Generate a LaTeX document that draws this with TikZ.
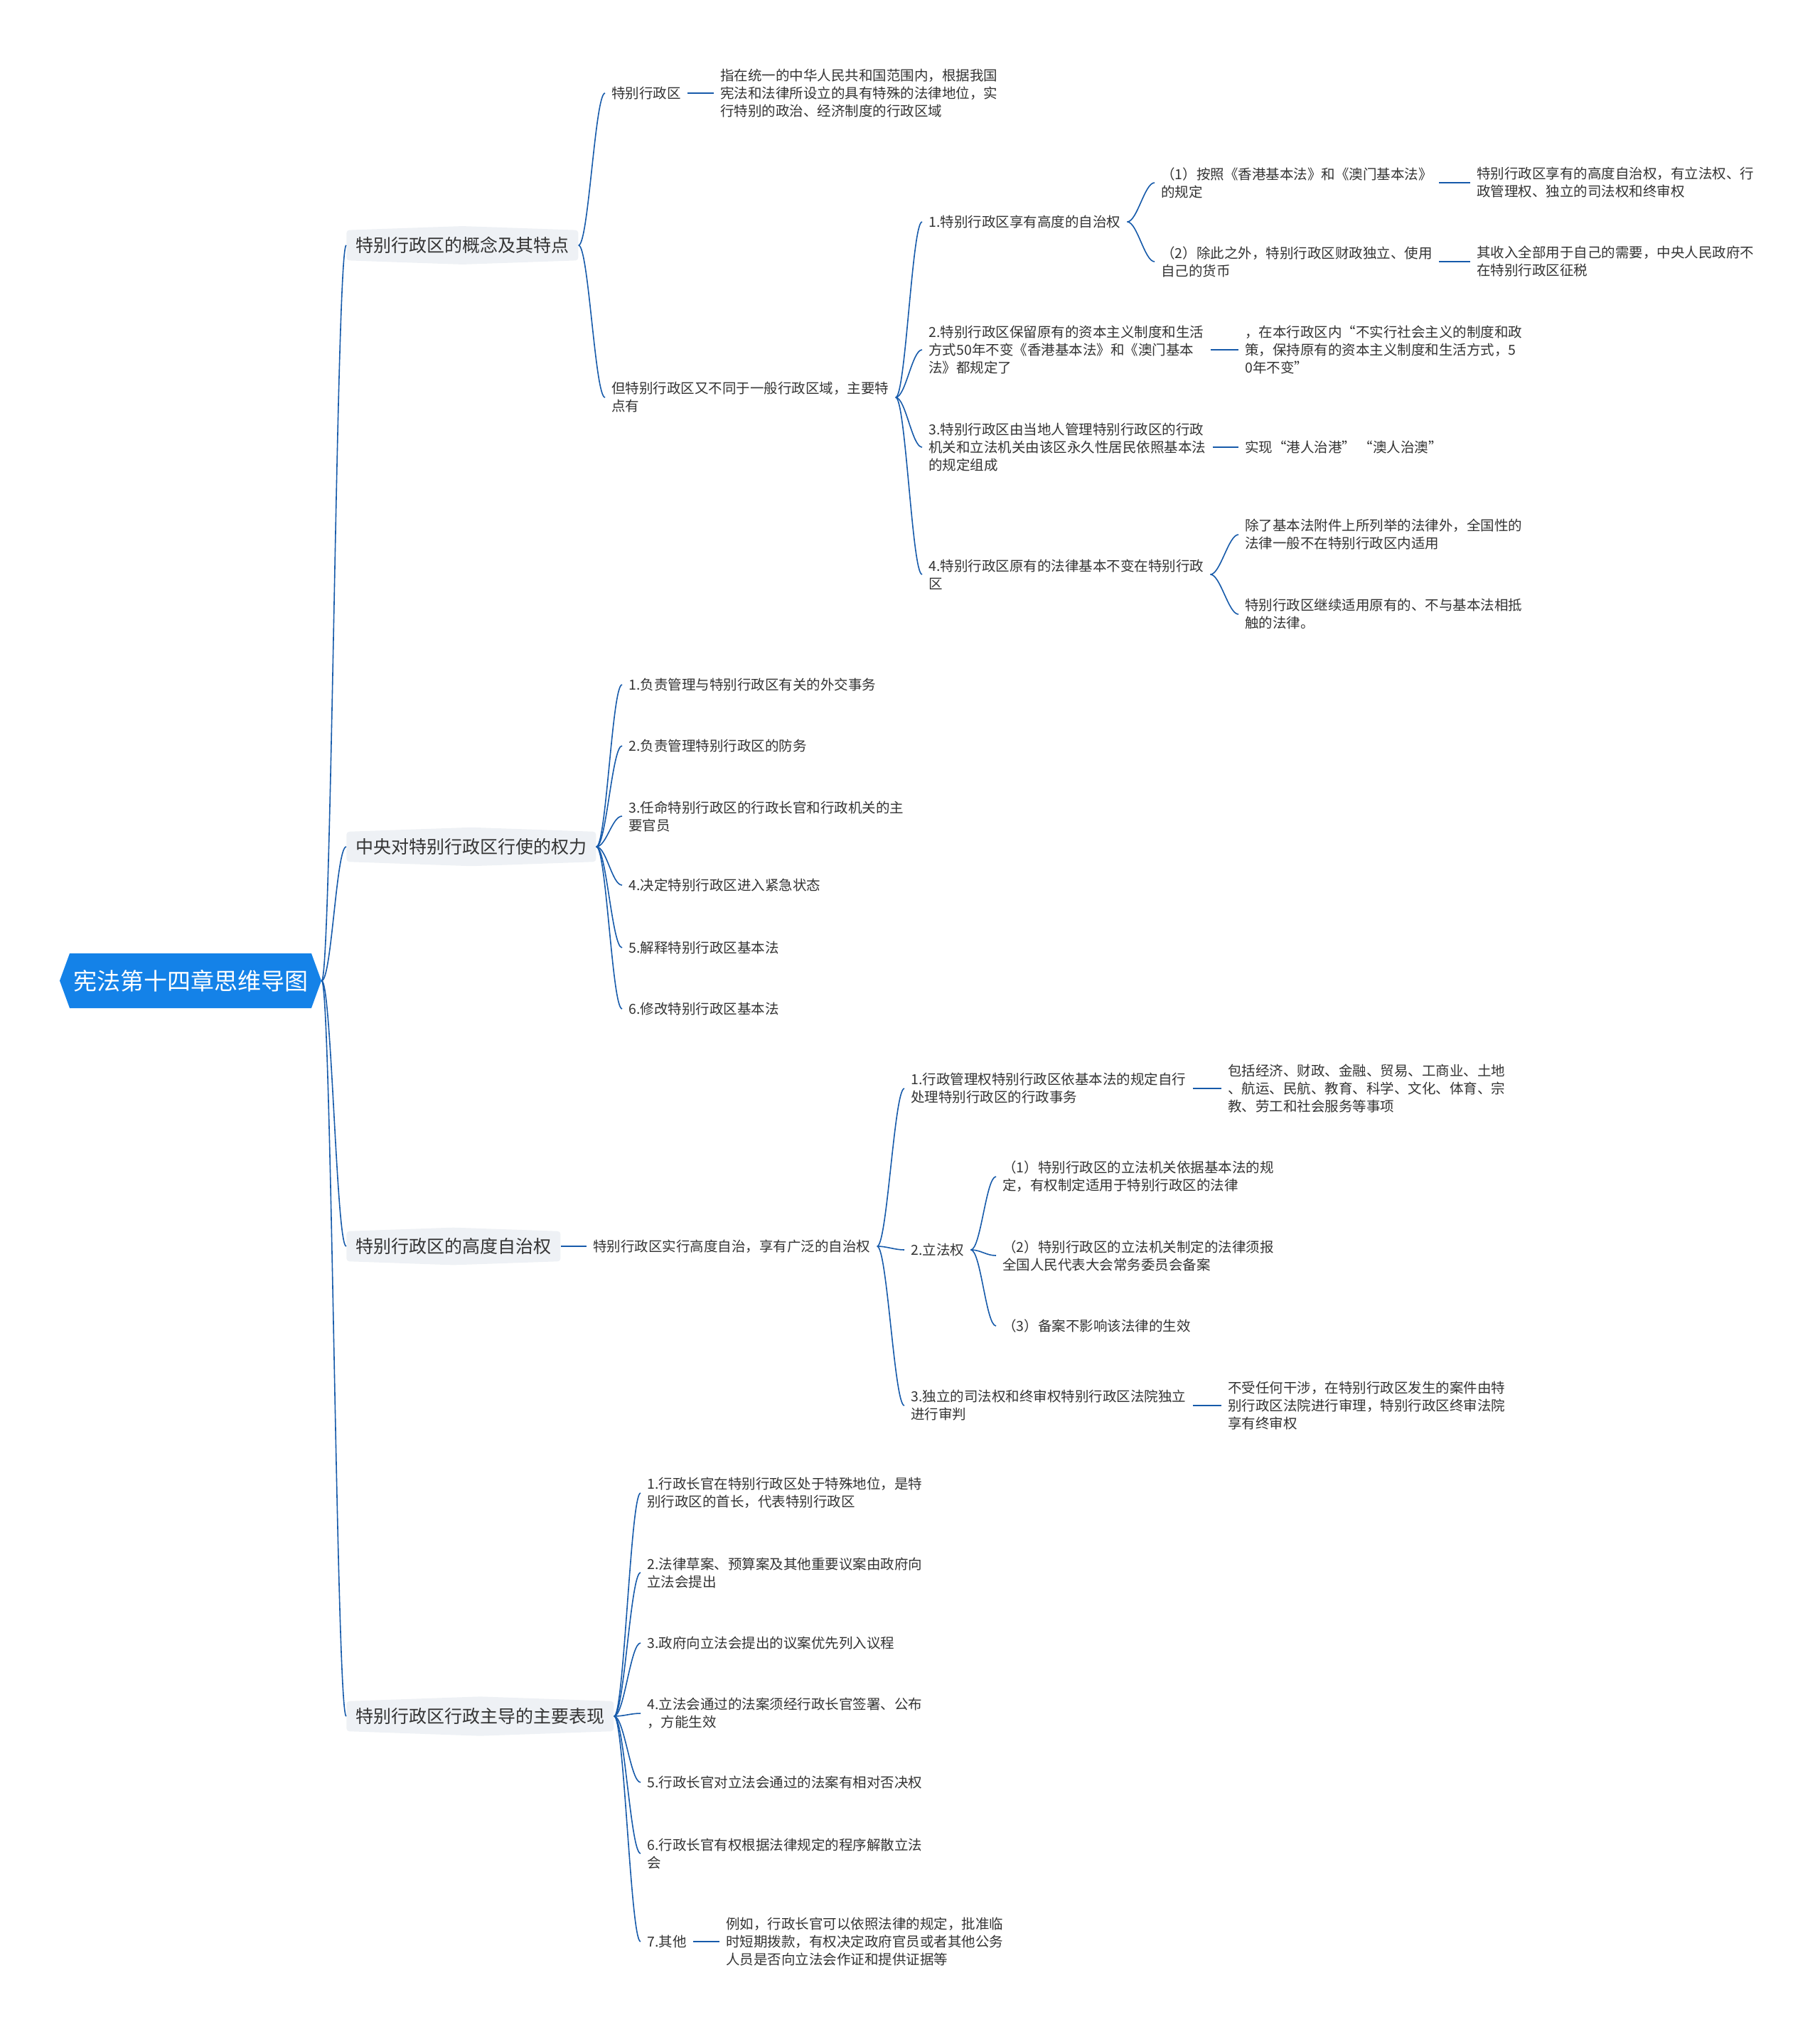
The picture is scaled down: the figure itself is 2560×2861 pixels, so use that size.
\documentclass[tikz,border=0pt]{standalone}
\usepackage{fontspec}
\setmainfont{Noto Sans CJK SC}
\usetikzlibrary{shapes.symbols}
\definecolor{linkblue}{RGB}{22,90,170}
\definecolor{rootblue}{RGB}{20,130,232}
\definecolor{topicgray}{RGB}{238,241,245}
\definecolor{txt}{RGB}{51,51,51}

\begin{document}
\begin{tikzpicture}[x=0.5pt, y=-0.5pt,
    root/.style = {shape=signal, signal to=west and east, signal pointer angle=140, fill=rootblue, text=white, font=\fontsize{16.5}{20}\selectfont, minimum height=38.5pt, inner xsep=2.5pt},
    topic/.style = {shape=signal, signal to=north and south, signal pointer angle=176, rounded corners=2pt, fill=topicgray, text=txt, font=\fontsize{12.5}{15}\selectfont, inner xsep=6.5pt, inner ysep=4.75pt, anchor=west},
    leaf/.style = {text=txt, font=\fontsize{9.75}{12.5}\selectfont, align=left, inner xsep=4.5pt, inner ysep=1pt, anchor=west},
    link/.style = {draw=linkblue, line width=0.8pt, to path={.. controls +(14,0) and +(-14,0) .. (\tikztotarget)}},
    bar/.style = {draw=linkblue, line width=1.2pt}]
    \useasboundingbox (0,0) rectangle (2560,2861);

    \node[root] (r) at (268,1379.5) {宪法第十四章思维导图};
    \node[topic] (a) at (487,345) {特别行政区的概念及其特点};
    \node[topic] (b) at (487,1191) {中央对特别行政区行使的权力};
    \node[topic] (c) at (487,1753) {特别行政区的高度自治权};
    \node[topic] (d) at (487,2414) {特别行政区行政主导的主要表现};

    \node[leaf] (a1) at (851,131) {特别行政区};
    \node[leaf] (a11) at (1004,131) {指在统一的中华人民共和国范围内，根据我国\\宪法和法律所设立的具有特殊的法律地位，实\\行特别的政治、经济制度的行政区域};
    \node[leaf] (a2) at (851,559) {但特别行政区又不同于一般行政区域，主要特\\点有};
    \node[leaf] (a21) at (1297,312) {1.特别行政区享有高度的自治权};
    \node[leaf] (a211) at (1624,257) {（1）按照《香港基本法》和《澳门基本法》\\的规定};
    \node[leaf] (a2111) at (2068,257) {特别行政区享有的高度自治权，有立法权、行\\政管理权、独立的司法权和终审权};
    \node[leaf] (a212) at (1624,368) {（2）除此之外，特别行政区财政独立、使用\\自己的货币};
    \node[leaf] (a2121) at (2068,368) {其收入全部用于自己的需要，中央人民政府不\\在特别行政区征税};
    \node[leaf] (a22) at (1297,492) {2.特别行政区保留原有的资本主义制度和生活\\方式50年不变《香港基本法》和《澳门基本\\法》都规定了};
    \node[leaf] (a221) at (1742,492) {，在本行政区内“不实行社会主义的制度和政\\策，保持原有的资本主义制度和生活方式，5\\0年不变”};
    \node[leaf] (a23) at (1297,629) {3.特别行政区由当地人管理特别行政区的行政\\机关和立法机关由该区永久性居民依照基本法\\的规定组成};
    \node[leaf] (a231) at (1742,629) {实现“港人治港” “澳人治澳”};
    \node[leaf] (a24) at (1297,808) {4.特别行政区原有的法律基本不变在特别行政\\区};
    \node[leaf] (a241) at (1742,752) {除了基本法附件上所列举的法律外，全国性的\\法律一般不在特别行政区内适用};
    \node[leaf] (a242) at (1742,864) {特别行政区继续适用原有的、不与基本法相抵\\触的法律。};

    \node[leaf] (b1) at (875,963) {1.负责管理与特别行政区有关的外交事务};
    \node[leaf] (b2) at (875,1049) {2.负责管理特别行政区的防务};
    \node[leaf] (b3) at (875,1148) {3.任命特别行政区的行政长官和行政机关的主\\要官员};
    \node[leaf] (b4) at (875,1245) {4.决定特别行政区进入紧急状态};
    \node[leaf] (b5) at (875,1333) {5.解释特别行政区基本法};
    \node[leaf] (b6) at (875,1419) {6.修改特别行政区基本法};

    \node[leaf] (c1) at (825,1753) {特别行政区实行高度自治，享有广泛的自治权};
    \node[leaf] (c11) at (1272,1531) {1.行政管理权特别行政区依基本法的规定自行\\处理特别行政区的行政事务};
    \node[leaf] (c111) at (1718,1531) {包括经济、财政、金融、贸易、工商业、土地\\、航运、民航、教育、科学、文化、体育、宗\\教、劳工和社会服务等事项};
    \node[leaf] (c12) at (1272,1758) {2.立法权};
    \node[leaf] (c121) at (1401,1655) {（1）特别行政区的立法机关依据基本法的规\\定，有权制定适用于特别行政区的法律};
    \node[leaf] (c122) at (1401,1766) {（2）特别行政区的立法机关制定的法律须报\\全国人民代表大会常务委员会备案};
    \node[leaf] (c123) at (1401,1865) {（3）备案不影响该法律的生效};
    \node[leaf] (c13) at (1272,1977) {3.独立的司法权和终审权特别行政区法院独立\\进行审判};
    \node[leaf] (c131) at (1718,1977) {不受任何干涉，在特别行政区发生的案件由特\\别行政区法院进行审理，特别行政区终审法院\\享有终审权};

    \node[leaf] (d1) at (901,2100) {1.行政长官在特别行政区处于特殊地位，是特\\别行政区的首长，代表特别行政区};
    \node[leaf] (d2) at (901,2212) {2.法律草案、预算案及其他重要议案由政府向\\立法会提出};
    \node[leaf] (d3) at (901,2311) {3.政府向立法会提出的议案优先列入议程};
    \node[leaf] (d4) at (901,2410) {4.立法会通过的法案须经行政长官签署、公布\\，方能生效};
    \node[leaf] (d5) at (901,2507) {5.行政长官对立法会通过的法案有相对否决权};
    \node[leaf] (d6) at (901,2607) {6.行政长官有权根据法律规定的程序解散立法\\会};
    \node[leaf] (d7) at (901,2731) {7.其他};
    \node[leaf] (d71) at (1012,2731) {例如，行政长官可以依照法律的规定，批准临\\时短期拨款，有权决定政府官员或者其他公务\\人员是否向立法会作证和提供证据等};

    \draw[link] (r.east) to (a.west);
    \draw[link] (r.east) to (b.west);
    \draw[link] (r.east) to (c.west);
    \draw[link] (r.east) to (d.west);

    \draw[link] (a.east) to (a1.west);
    \draw[link] (a.east) to (a2.west);
    \draw[bar] (a1.east) -- (a11.west);
    \draw[link] (a2.east) to (a21.west);
    \draw[link] (a2.east) to (a22.west);
    \draw[link] (a2.east) to (a23.west);
    \draw[link] (a2.east) to (a24.west);
    \draw[link] (a21.east) to (a211.west);
    \draw[link] (a21.east) to (a212.west);
    \draw[bar] (a211.east) -- (a2111.west);
    \draw[bar] (a212.east) -- (a2121.west);
    \draw[bar] (a22.east) -- (a221.west);
    \draw[bar] (a23.east) -- (a231.west);
    \draw[link] (a24.east) to (a241.west);
    \draw[link] (a24.east) to (a242.west);

    \foreach \i in {1,...,6}
        \draw[link] (b.east) to (b\i.west);

    \draw[bar] (c.east) -- (c1.west);
    \draw[link] (c1.east) to (c11.west);
    \draw[link] (c1.east) to (c12.west);
    \draw[link] (c1.east) to (c13.west);
    \draw[bar] (c11.east) -- (c111.west);
    \draw[link] (c12.east) to (c121.west);
    \draw[link] (c12.east) to (c122.west);
    \draw[link] (c12.east) to (c123.west);
    \draw[bar] (c13.east) -- (c131.west);

    \foreach \i in {1,...,7}
        \draw[link] (d.east) to (d\i.west);
    \draw[bar] (d7.east) -- (d71.west);
\end{tikzpicture}
\end{document}
